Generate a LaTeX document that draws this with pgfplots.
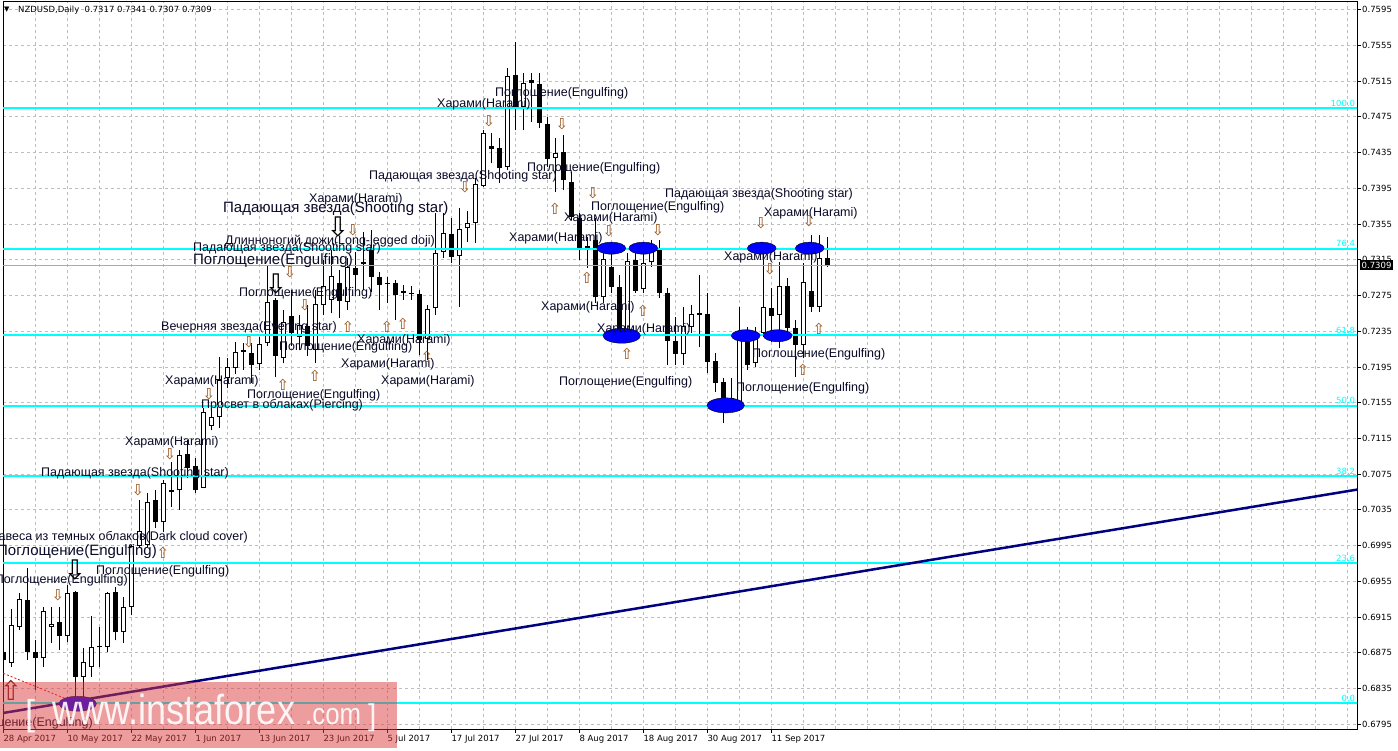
\documentclass[border=0pt]{standalone}
\usepackage{pgfplots}
\pgfplotsset{compat=1.18}
\usepackage{pgfplotstable}
\usepackage{graphicx}
\usepackage{fontspec}
\setmainfont{Liberation Sans}
\newfontfamily\dejavu{DejaVu Sans}
\definecolor{fibc}{RGB}{0,255,255}
\definecolor{trendc}{RGB}{0,0,128}
\definecolor{gridc}{RGB}{190,190,190}
\definecolor{txtc}{RGB}{10,10,40}
\definecolor{arrc}{RGB}{150,80,20}
\definecolor{arrred}{RGB}{120,30,30}
\definecolor{bidc}{RGB}{170,170,170}
\definecolor{wmark}{RGB}{220,60,60}

% daily candles NZDUSD, bar index k (0 = 28 Apr 2017)
\pgfplotstableread{
k o h l c
0 0.6876 0.6892 0.6854 0.6867
1 0.6864 0.6924 0.6859 0.6906
2 0.6904 0.6942 0.6901 0.6935
3 0.6934 0.6970 0.6867 0.6876
4 0.6876 0.6889 0.6833 0.6869
5 0.6869 0.6926 0.6859 0.6922
6 0.6904 0.6926 0.6886 0.6907
7 0.6910 0.6926 0.6878 0.6894
8 0.6894 0.6951 0.6887 0.6942
9 0.6943 0.6944 0.6817 0.6848
10 0.6848 0.6880 0.6819 0.6865
11 0.6859 0.6916 0.6848 0.6882
12 0.6881 0.6904 0.6859 0.6883
13 0.6882 0.6943 0.6876 0.6942
14 0.6943 0.6949 0.6889 0.6898
15 0.6898 0.6937 0.6886 0.6926
16 0.6926 0.6996 0.6917 0.6995
17 0.6995 0.7046 0.6993 0.7011
18 0.6996 0.7054 0.6993 0.7044
19 0.7046 0.7057 0.7015 0.7021
20 0.7021 0.7068 0.7010 0.7065
21 0.7055 0.7089 0.7038 0.7057
22 0.7057 0.7102 0.7035 0.7096
23 0.7098 0.7113 0.7071 0.7082
24 0.7084 0.7093 0.7054 0.7057
25 0.7060 0.7149 0.7059 0.7145
26 0.7129 0.7150 0.7124 0.7139
27 0.7139 0.7206 0.7127 0.7180
28 0.7183 0.7205 0.7171 0.7195
29 0.7194 0.7223 0.7187 0.7212
30 0.7212 0.7222 0.7192 0.7214
31 0.7211 0.7222 0.7177 0.7197
32 0.7198 0.7229 0.7192 0.7221
33 0.7222 0.7309 0.7218 0.7268
34 0.7270 0.7272 0.7184 0.7207
35 0.7205 0.7259 0.7199 0.7245
36 0.7252 0.7281 0.7219 0.7233
37 0.7229 0.7253 0.7214 0.7242
38 0.7241 0.7264 0.7207 0.7219
39 0.7214 0.7281 0.7199 0.7266
40 0.7264 0.7315 0.7253 0.7286
41 0.7270 0.7326 0.7255 0.7297
42 0.7289 0.7304 0.7250 0.7269
43 0.7268 0.7317 0.7259 0.7307
44 0.7306 0.7324 0.7281 0.7298
45 0.7310 0.7346 0.7281 0.7312
46 0.7326 0.7348 0.7279 0.7296
47 0.7296 0.7301 0.7259 0.7287
48 0.7288 0.7296 0.7267 0.7289
49 0.7289 0.7292 0.7248 0.7276
50 0.7278 0.7287 0.7270 0.7280
51 0.7278 0.7286 0.7270 0.7277
52 0.7277 0.7281 0.7208 0.7225
53 0.7226 0.7264 0.7203 0.7260
54 0.7261 0.7367 0.7253 0.7323
55 0.7324 0.7367 0.7317 0.7345
56 0.7344 0.7362 0.7311 0.7318
57 0.7319 0.7373 0.7262 0.7349
58 0.7351 0.7370 0.7335 0.7356
59 0.7356 0.7407 0.7334 0.7400
60 0.7398 0.7460 0.7397 0.7457
61 0.7442 0.7457 0.7423 0.7439
62 0.7440 0.7451 0.7401 0.7418
63 0.7419 0.7530 0.7415 0.7521
64 0.7522 0.7559 0.7460 0.7486
65 0.7486 0.7524 0.7460 0.7513
66 0.7516 0.7524 0.7469 0.7513
67 0.7512 0.7524 0.7463 0.7468
68 0.7467 0.7475 0.7419 0.7428
69 0.7429 0.7451 0.7391 0.7435
70 0.7436 0.7455 0.7393 0.7404
71 0.7402 0.7413 0.7360 0.7363
72 0.7362 0.7367 0.7315 0.7328
73 0.7330 0.7341 0.7306 0.7326
74 0.7337 0.7362 0.7267 0.7273
75 0.7273 0.7326 0.7267 0.7316
76 0.7307 0.7323 0.7278 0.7285
77 0.7285 0.7298 0.7233 0.7236
78 0.7236 0.7323 0.7225 0.7314
79 0.7315 0.7332 0.7278 0.7280
80 0.7282 0.7323 0.7278 0.7311
81 0.7312 0.7337 0.7307 0.7325
82 0.7326 0.7337 0.7272 0.7278
83 0.7278 0.7283 0.7197 0.7224
84 0.7224 0.7251 0.7197 0.7210
85 0.7210 0.7262 0.7197 0.7241
86 0.7240 0.7264 0.7233 0.7254
87 0.7255 0.7298 0.7217 0.7253
88 0.7254 0.7278 0.7188 0.7201
89 0.7202 0.7211 0.7167 0.7177
90 0.7178 0.7183 0.7132 0.7156
91 0.7155 0.7183 0.7147 0.7160
92 0.7156 0.7262 0.7155 0.7233
93 0.7233 0.7240 0.7192 0.7197
94 0.7199 0.7240 0.7195 0.7233
95 0.7233 0.7326 0.7229 0.7262
96 0.7261 0.7283 0.7223 0.7252
97 0.7253 0.7313 0.7216 0.7286
98 0.7286 0.7295 0.7233 0.7239
99 0.7239 0.7248 0.7184 0.7220
100 0.7220 0.7311 0.7205 0.7290
101 0.7280 0.7343 0.7257 0.7262
102 0.7262 0.7343 0.7257 0.7317
103 0.7317 0.7341 0.7307 0.7309
}\candles

\begin{document}
\begin{tikzpicture}[x=1pt,y=1pt]
\useasboundingbox (0,0) rectangle (1398,750);
\fill[white] (0,0) rectangle (1398,750);
\begin{axis}[
    at={(3pt,21pt)}, anchor=south west,
    scale only axis, width=1354pt, height=727pt,
    xmin=-0.0375, xmax=169.21,
    ymin=0.67897, ymax=0.76036,
    axis line style={black, line width=1pt},
    xtick pos=left, ytick pos=right,
    tick align=outside,
    major tick length=4pt, minor tick length=0pt,
    tick style={black, line width=0.8pt},
    xtick={0,8,...,96},
    xticklabels={28 Apr 2017,10 May 2017,22 May 2017,1 Jun 2017,13 Jun 2017,23 Jun 2017,5 Jul 2017,17 Jul 2017,27 Jul 2017,8 Aug 2017,18 Aug 2017,30 Aug 2017,11 Sep 2017},
    minor xtick={4,12,20,28,36,44,52,60,68,76,84,92,100,104,108,112,116,120,124,128,132,136,140,144,148,152,156,160,164,168},
    ytick={0.6795,0.6835,0.6875,0.6915,0.6955,0.6995,0.7035,0.7075,0.7115,0.7155,0.7195,0.7235,0.7275,0.7315,0.7355,0.7395,0.7435,0.7475,0.7515,0.7555,0.7595},
    scaled y ticks=false,
    yticklabel={\pgfmathprintnumber[fixed,fixed zerofill,precision=4]{\tick}},
    /pgf/number format/assume math mode=true,
    xticklabel style={font=\dejavu\fontsize{8.5}{10}\selectfont, anchor=north west, inner sep=0pt, xshift=0pt, yshift=-2pt},
    yticklabel style={font=\dejavu\fontsize{8.5}{10}\selectfont, anchor=west, inner sep=0pt, xshift=1pt},
    grid=both,
    major grid style={gridc, dash pattern=on 3pt off 3pt, line width=0.8pt},
    minor grid style={gridc, dash pattern=on 3pt off 3pt, line width=0.8pt},
    clip=true,
    candle/.style={only marks, mark size=0pt, mark options={draw=none, fill=none},
      error bars/.cd, y dir=plus, y explicit, error mark=none},
]
% pattern ellipses (behind the candles)
\addplot[only marks, mark=*, mark size=6pt, mark options={xscale=2.4, fill=blue, draw=none}]
  coordinates {(76,0.7328) (80,0.7328) (94.8,0.7328) (100.8,0.7328) (92.8,0.7230) (96.8,0.7230)};
\addplot[only marks, mark=*, mark size=7.5pt, mark options={xscale=2.5, fill=blue, draw=none}]
  coordinates {(77.3,0.7230) (90.3,0.7152) (9.3,0.6818)};

% wicks
\addplot[candle, error bar style={black, line width=1pt}]
  table[x=k, y=l, y error expr=\thisrow{h}-\thisrow{l}] {\candles};
% bodies
\addplot[candle, error bar style={black, line width=5pt, line cap=butt}]
  table[x=k, y expr={min(\thisrow{o},\thisrow{c})}, y error expr={max(abs(\thisrow{c}-\thisrow{o}),0.000112)}] {\candles};
% hollow inside of rising candles
\addplot[candle, error bar style={white, line width=3pt, line cap=butt}]
  table[x=k, y expr={(\thisrow{c}-\thisrow{o}>0.00025) ? \thisrow{o}+0.000112 : nan}, y error expr={\thisrow{c}-\thisrow{o}-0.000224}] {\candles};

% bid line
\addplot[bidc, line width=0.8pt] coordinates {(-1,0.7309) (171,0.7309)};
% fibonacci levels
\pgfplotsinvokeforeach{0.68183,0.69756,0.70729,0.71516,0.72303,0.73276,0.74849}{
  \addplot[fibc, line width=2pt] coordinates {(-1,#1) (171,#1)};
}
% trend line and zigzag
\addplot[trendc, line width=2.5pt] coordinates {(-0.0375,0.68076) (169.21,0.70577)};
\addplot[red, line width=0.8pt, dash pattern=on 2pt off 2pt] coordinates {(0,0.6852) (8.8,0.6820)};

% level labels
\begin{scope}[every node/.style={text=fibc, font=\dejavu\fontsize{8.5}{10}\selectfont, inner sep=0pt, anchor=south east}]
\node at (axis cs:169.0,0.74849) [yshift=1.5pt] {100.0};
\node at (axis cs:169.0,0.73276) [yshift=1.5pt] {76.4};
\node at (axis cs:169.0,0.72303) [yshift=1.5pt] {61.8};
\node at (axis cs:169.0,0.71516) [yshift=1.5pt] {50.0};
\node at (axis cs:169.0,0.70729) [yshift=1.5pt] {38.2};
\node at (axis cs:169.0,0.69756) [yshift=1.5pt] {23.6};
\node at (axis cs:169.0,0.68183) [yshift=1.5pt] {0.0};
\end{scope}
\end{axis}

% pattern labels and arrows
\begin{scope}
\clip (0,21) rectangle (1357,750);
\tikzset{
  lb/.style={text=txtc, inner sep=0pt, anchor=west, font=\fontsize{12.5}{14}\selectfont},
  lbe/.style={lb, anchor=east},
  big/.style={font=\fontsize{15}{17}\selectfont},
  ad/.style={text=arrc, inner sep=0pt, font=\dejavu\fontsize{15}{15}\selectfont},
  abig/.style={text=black, inner sep=0pt, font=\dejavu\fontsize{27}{27}\selectfont},
}
\node[lb] at (437,646) {Харами(Harami)};
\node[lb] at (495,657) {Поглощение(Engulfing)};
\node[lb] at (527,582) {Поглощение(Engulfing)};
\node[lb] at (369,574) {Падающая звезда(Shooting star)};
\node[lb] at (665,556) {Падающая звезда(Shooting star)};
\node[lb] at (591,543) {Поглощение(Engulfing)};
\node[lb] at (564,532) {Харами(Harami)};
\node[lb] at (764,537) {Харами(Harami)};
\node[lb] at (509,512) {Харами(Harami)};
\node[lb] at (724,493) {Харами(Harami)};
\node[lb] at (541,443) {Харами(Harami)};
\node[lb] at (597,421) {Харами(Harami)};
\node[lb] at (559,368) {Поглощение(Engulfing)};
\node[lb] at (752,396) {Поглощение(Engulfing)};
\node[lb] at (736,362) {Поглощение(Engulfing)};
\node[lb] at (309,551) {Харами(Harami)};
\node[lb, big] at (223,541) {Падающая звезда(Shooting star)};
\node[lb] at (225,509) {Длинноногий дожи(Long-legged doji)};
\node[lb] at (193,502) {Падающая звезда(Shooting star)};
\node[lb, big] at (193,489) {Поглощение(Engulfing)};
\node[lb] at (239,457) {Поглощение(Engulfing)};
\node[lb] at (161,423) {Вечерняя звезда(Evening star)};
\node[lb] at (279,403) {Поглощение(Engulfing)};
\node[lb] at (357,410) {Харами(Harami)};
\node[lb] at (341,386) {Харами(Harami)};
\node[lb] at (381,369) {Харами(Harami)};
\node[lb] at (165,369) {Харами(Harami)};
\node[lb] at (247,355) {Поглощение(Engulfing)};
\node[lb] at (201,345) {Просвет в облаках(Piercing)};
\node[lb] at (125,308) {Харами(Harami)};
\node[lb] at (41,277) {Падающая звезда(Shooting star)};
\node[lbe] at (248,213) {Завеса из темных облаков(Dark cloud cover)};
\node[lbe, big] at (157,198) {Поглощение(Engulfing)};
\node[lbe] at (128,170) {Поглощение(Engulfing)};
\node[lb] at (96,179) {Поглощение(Engulfing)};
\node[lbe] at (93,27) {Поглощение(Engulfing)};
% down arrows
\foreach \p in {(489,629),(562,626),(465,563),(593,557),(609,519),(658,520),(761,527),(809,529),(770,481),(353,520),(290,478),(305,445),(249,408),(209,356),(170,296),(138,260),(58,155)}
  \node[ad] at \p {⇩};
\foreach \p in {(338,523),(276,466),(75,180)}
  \node[abig] at \p {⇩};
% up arrows
\foreach \p in {(555,541),(587,472),(643,439),(627,396),(819,421),(803,380),(348,423),(387,423),(403,426),(427,393),(315,374),(283,365),(163,197)}
  \node[ad] at \p {⇧};
\node[abig, text=arrred] at (11,60) {⇧};
\end{scope}

% chart caption
\node[anchor=west, inner sep=0pt, font=\dejavu\fontsize{7}{8}\selectfont] at (4,740) {▼};
\node[anchor=west, inner sep=0pt, font=\dejavu\fontsize{8.5}{10}\selectfont] at (18,740) {NZDUSD,Daily\ \ 0.7317 0.7341 0.7307 0.7309};

% current price box
\node[fill=black, text=white, inner xsep=1.5pt, inner ysep=2pt, anchor=west, font=\dejavu\fontsize{8.5}{10}\selectfont] at (1360,485) {0.7309};

% watermark
\fill[wmark, opacity=0.5] (0,2) rectangle (397,68);
\begin{scope}[every node/.style={text=white, opacity=0.9, inner sep=0pt, anchor=base west}]
\node at (25,24) {\fontsize{36}{36}\selectfont [};
\node at (52,26) {\fontsize{42}{42}\selectfont\scalebox{0.86}[1]{www.instaforex}};
\node at (305,26) {\fontsize{30}{30}\selectfont\scalebox{0.86}[1]{.com}};
\node at (368,24) {\fontsize{30}{30}\selectfont ]};
\end{scope}
\end{tikzpicture}
\end{document}
